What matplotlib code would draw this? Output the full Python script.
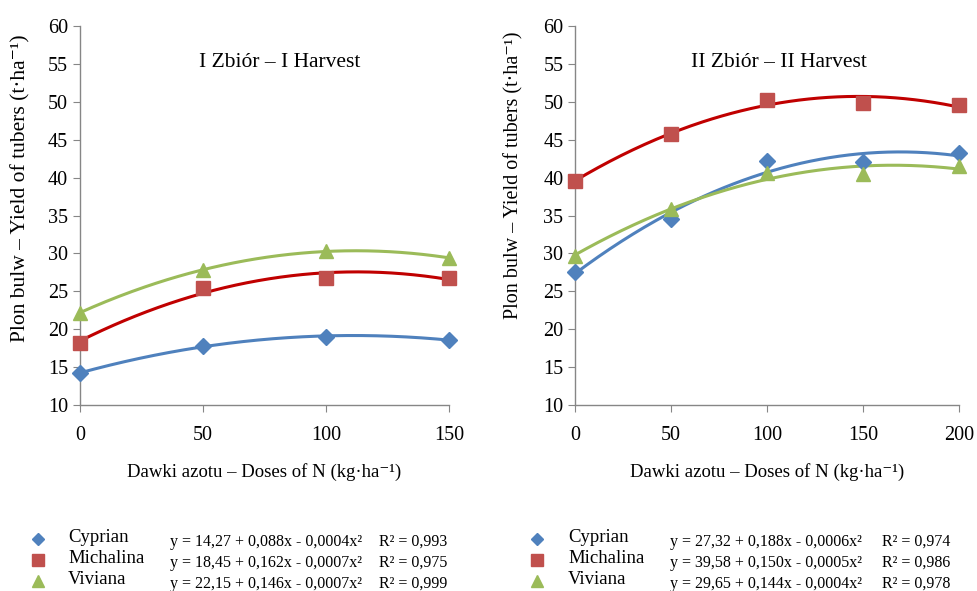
import numpy as np
import matplotlib
matplotlib.use('Agg')
import matplotlib.pyplot as plt

plt.rcParams['font.family'] = ['Liberation Serif', 'DejaVu Serif']

varieties = ['Cyprian', 'Michalina', 'Viviana']

doses_1 = [0, 50, 100, 150]
cyprian_1 = [14.2, 17.8, 19.0, 18.6]
michalina_1 = [18.2, 25.5, 26.7, 26.8]
viviana_1 = [22.2, 27.8, 30.3, 29.4]

doses_2 = [0, 50, 100, 150, 200]
cyprian_2 = [27.5, 34.6, 42.2, 42.0, 43.2]
michalina_2 = [39.5, 45.8, 50.2, 49.9, 49.6]
viviana_2 = [29.7, 35.8, 40.6, 40.5, 41.5]

eq_1 = ['y = 14,27 + 0,088x - 0,0004x²', 'y = 18,45 + 0,162x - 0,0007x²', 'y = 22,15 + 0,146x - 0,0007x²']
r2_1 = ['R² = 0,993', 'R² = 0,975', 'R² = 0,999']
eq_2 = ['y = 27,32 + 0,188x - 0,0006x²', 'y = 39,58 + 0,150x - 0,0005x²', 'y = 29,65 + 0,144x - 0,0004x²']
r2_2 = ['R² = 0,974', 'R² = 0,986', 'R² = 0,978']

marker_colors = ['#4F81BD', '#C0504D', '#9BBB59']
line_colors = ['#4F81BD', '#C00000', '#9BBB59']
markers = ['D', 's', '^']
msizes = [8, 10, 10]

fig = plt.figure(figsize=(9.78, 5.91), dpi=100)
ax1 = fig.add_axes([0.0818, 0.3147, 0.3773, 0.6413])
ax2 = fig.add_axes([0.588, 0.3147, 0.3926, 0.6413])

ylabel = 'Plon bulw – Yield of tubers (t·ha⁻¹)'
xlabel = 'Dawki azotu – Doses of N (kg·ha⁻¹)'


def draw(ax, x, series, xmax, title, tx, ysize, ly):
    xs = np.linspace(0, xmax, 200)
    for i, y in enumerate(series):
        c = np.polyfit(x, y, 2)
        ax.plot(xs, np.polyval(c, xs), color=line_colors[i], lw=2.2, zorder=2)
        ax.plot(x, y, linestyle='none', marker=markers[i], ms=msizes[i],
                color=marker_colors[i], zorder=3, clip_on=False)
    ax.set_xlim(0, xmax)
    ax.set_ylim(10, 60)
    ax.set_xticks(x)
    ax.set_yticks(range(10, 61, 5))
    for s in ['top', 'right']:
        ax.spines[s].set_visible(False)
    for s in ['left', 'bottom']:
        ax.spines[s].set_color('#868686')
        ax.spines[s].set_linewidth(1)
    ax.tick_params(direction='out', length=5, color='#868686', labelsize=14.5)
    ax.tick_params(axis='x', pad=10)
    ax.set_ylabel(ylabel, fontsize=ysize)
    ax.yaxis.set_label_coords(-0.135, ly)
    ax.set_xlabel(xlabel, fontsize=13.5, labelpad=13)
    ax.text(tx, 0.905, title, transform=ax.transAxes, ha='center', va='center', fontsize=15.5)


draw(ax1, doses_1, [cyprian_1, michalina_1, viviana_1], 150, 'I Zbiór – I Harvest', 0.541, 15.5, 0.573)
draw(ax2, doses_2, [cyprian_2, michalina_2, viviana_2], 200, 'II Zbiór – II Harvest', 0.531, 14.5, 0.605)


def legend(xm, xn, xe, xr, eqs, r2s):
    ys = [539, 560, 581]
    for i in range(3):
        yf = 1 - ys[i] / 591
        fig.lines.append(plt.Line2D([xm / 978], [yf], marker=markers[i], ms=msizes[i] - 2,
                                    color=marker_colors[i], transform=fig.transFigure, linestyle='none'))
        fig.text(xn / 978, yf + 0.002, varieties[i], fontsize=13.5, va='center', ha='left')
        fig.text(xe / 978, yf - 0.005, eqs[i], fontsize=11.5, va='center', ha='left')
        fig.text(xr / 978, yf - 0.005, r2s[i], fontsize=11.5, va='center', ha='left')


legend(38, 68, 170, 379, eq_1, r2_1)
legend(537, 568, 670, 882, eq_2, r2_2)

fig.savefig('out.png', dpi=100)
